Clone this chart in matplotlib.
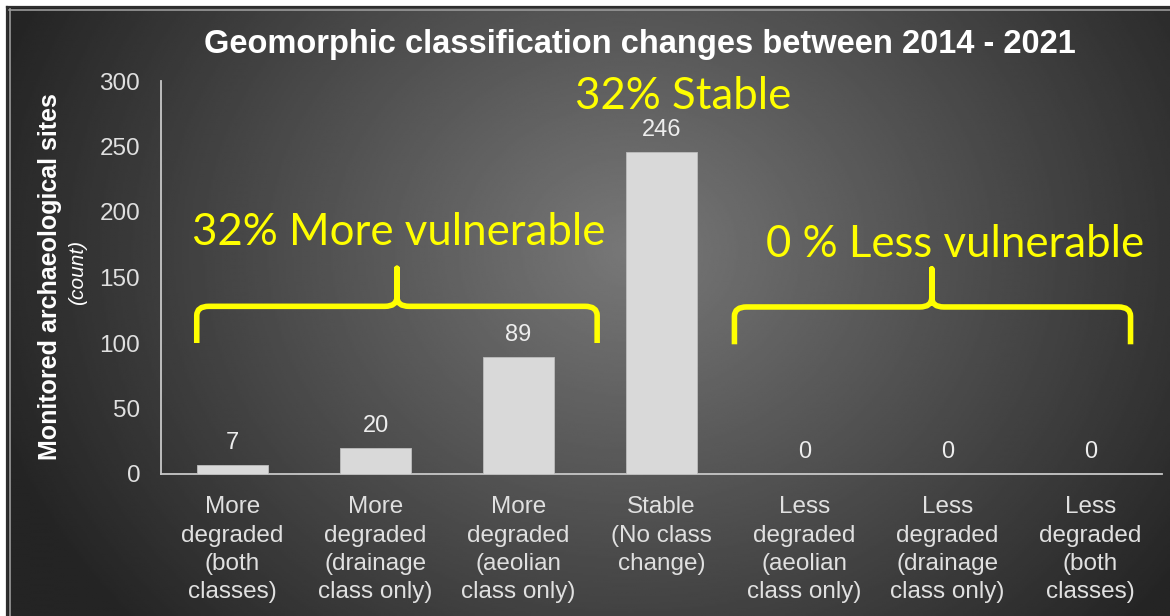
import numpy as np
import matplotlib
matplotlib.use('Agg')
import matplotlib.pyplot as plt
from matplotlib.path import Path
from matplotlib.patches import PathPatch
from matplotlib.lines import Line2D

categories = ['More\ndegraded\n(both\nclasses)',
              'More\ndegraded\n(drainage\nclass only)',
              'More\ndegraded\n(aeolian\nclass only)',
              'Stable\n(No class\nchange)',
              'Less\ndegraded\n(aeolian\nclass only)',
              'Less\ndegraded\n(drainage\nclass only)',
              'Less\ndegraded\n(both\nclasses)']
site_counts = [7, 20, 89, 246, 0, 0, 0]
y_ticks = [0, 50, 100, 150, 200, 250, 300]

title = 'Geomorphic classification changes between 2014 - 2021'
note_more = '32% More vulnerable'
note_stable = '32% Stable'
note_less = '0 % Less vulnerable'

YELLOW = '#FFFF00'
LIGHT = '#D9D9D9'
W, H = 1170, 616


def draw_brace(ax, x0, x1, xm, ybot, yh, ypk, rx=0.085, ry=7.0):
    """Curly brace opening downwards, drawn in data coords."""
    verts = [(x0, ybot), (x0, yh - ry),
             (x0, yh), (x0 + rx, yh),
             (xm - rx, yh),
             (xm, yh), (xm, yh + ry),
             (xm, ypk),
             (xm, yh + ry),
             (xm, yh), (xm + rx, yh),
             (x1 - rx, yh),
             (x1, yh), (x1, yh - ry),
             (x1, ybot)]
    codes = [Path.MOVETO, Path.LINETO,
             Path.CURVE3, Path.CURVE3,
             Path.LINETO,
             Path.CURVE3, Path.CURVE3,
             Path.LINETO,
             Path.LINETO,
             Path.CURVE3, Path.CURVE3,
             Path.LINETO,
             Path.CURVE3, Path.CURVE3,
             Path.LINETO]
    patch = PathPatch(Path(verts, codes), facecolor='none', edgecolor=YELLOW,
                      lw=4.0, capstyle='butt', joinstyle='round', clip_on=False, zorder=5)
    ax.add_patch(patch)


fig = plt.figure(figsize=(W / 100, H / 100), dpi=100, facecolor='white')

# radial grey gradient background
bg = fig.add_axes([6 / W, 0, 1 - 6 / W, 1 - 6 / H], zorder=-10)
gx, gy = np.meshgrid(np.linspace(6, W, 600), np.linspace(6, H, 320))
dist = np.sqrt(((gx - 630) / 1.0) ** 2 + ((gy - 250) / 0.85) ** 2)
lum = np.clip(120 - 0.125 * dist, 36, 255) / 255.0
bg.imshow(lum, cmap='gray', vmin=0, vmax=1, aspect='auto',
          extent=[6, W, H, 6], interpolation='bilinear')
bg.set_axis_off()

# frame lines at top and left edge
fig.add_artist(Line2D([6.5 / W, 1], [1 - 7 / H, 1 - 7 / H], color='#2E2E2E', lw=1.6, transform=fig.transFigure))
fig.add_artist(Line2D([9 / W, 1], [1 - 9.5 / H, 1 - 9.5 / H], color='#9A9A9A', lw=1.2, transform=fig.transFigure))
fig.add_artist(Line2D([7 / W, 7 / W], [0, 1 - 6.5 / H], color='#2E2E2E', lw=1.6, transform=fig.transFigure))
fig.add_artist(Line2D([9.5 / W, 9.5 / W], [0, 1 - 9 / H], color='#9A9A9A', lw=1.2, transform=fig.transFigure))

ax = fig.add_axes([161 / W, 1 - 474 / H, 1001 / W, 393 / H])
ax.set_facecolor('none')

x = np.arange(len(categories))
bars = ax.bar(x, site_counts, width=0.5, color=LIGHT, edgecolor='#BDBDBD', linewidth=0.6, zorder=3)
for xi, v in zip(x, site_counts):
    ax.annotate(str(v), (xi, v), xytext=(0, 16), textcoords='offset points',
                ha='center', va='center', color='#EDEDED', fontsize=17,
                family='Liberation Sans')

ax.set_xlim(-0.5, len(categories) - 0.5)
ax.set_ylim(0, 300)
ax.set_yticks(y_ticks)
ax.set_xticks(x)
ax.set_xticklabels(categories, linespacing=1.37)
ax.tick_params(length=0, colors=LIGHT, labelsize=17.5)
ax.tick_params(axis='y', pad=15)
ax.tick_params(axis='x', pad=16)
for lab in ax.get_xticklabels() + ax.get_yticklabels():
    lab.set_family('Liberation Sans')
    lab.set_color('#E0E0E0')
for s in ['top', 'right']:
    ax.spines[s].set_visible(False)
for s in ['left', 'bottom']:
    ax.spines[s].set_color('#C8C8C8')
    ax.spines[s].set_linewidth(1.3)

# title and axis titles
fig.text(640 / W, 1 - 45 / H, title, ha='center', va='center', color='white',
         fontsize=23.5, fontweight='bold', family='Liberation Sans')
fig.text(50 / W, 1 - 277 / H, 'Monitored archaeological sites', rotation=90,
         ha='center', va='center', color='white', fontsize=18, fontweight='bold',
         family='Liberation Sans')
fig.text(78 / W, 1 - 272 / H, '(count)', rotation=90, ha='center', va='center',
         color='white', fontsize=15, style='italic', family='Liberation Sans')

# yellow annotations
ax.text(1.16, 184.5, note_more, ha='center', va='center', color=YELLOW, fontsize=31.5, family='Lato')
ax.text(3.15, 288.5, note_stable, ha='center', va='center', color=YELLOW, fontsize=31.5,
        family='Lato', clip_on=False)
ax.text(5.05, 175, note_less, ha='center', va='center', color=YELLOW, fontsize=31.5, family='Lato')

draw_brace(ax, -0.25, 2.55, 1.15, 100, 128, 157)
draw_brace(ax, 3.51, 6.28, 4.89, 99, 127.5, 156.5)

fig.savefig('out.png', dpi=100, facecolor=fig.get_facecolor())
